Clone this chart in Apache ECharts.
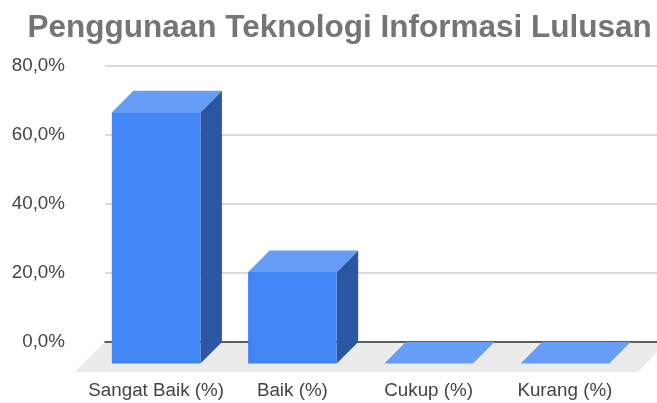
<!DOCTYPE html>
<html>
<head>
<meta charset="utf-8">
<title>Penggunaan Teknologi Informasi Lulusan</title>
<style>
  html, body { margin: 0; padding: 0; background: #fff; }
  #main { width: 657px; height: 403px; }
</style>
</head>
<body>
<div id="main"></div>
<script src="https://cdn.jsdelivr.net/npm/echarts@6/dist/echarts.min.js"></script>
<script>
const categories = ['Sangat Baik (%)', 'Baik (%)', 'Cukup (%)', 'Kurang (%)'];
const values = [72.7, 26.5, 0, 0];
const yTicks = [0, 20, 40, 60, 80];

const chartTitle = 'Penggunaan Teknologi Informasi Lulusan';
const fontName = '"Liberation Sans", Arial, sans-serif';
const depth = 21.5; // offset of the back of the box
const barShare = 0.65;

const chart = echarts.init(document.getElementById('main'), null, { renderer: 'canvas' });

// the 3d look: back wall is grid 0, front plane is grid 1 (same scale, shifted by depth)
function renderFloor(params, api) {
  const cs = params.coordSys;
  const y0 = api.coord([0, 0])[1];
  return {
    type: 'polygon',
    shape: {
      points: [
        [cs.x + 16.6, y0 - depth],
        [cs.x + cs.width + 34.6, y0 - depth],
        [cs.x + cs.width + 4.6, y0 + 8.5],
        [cs.x - 13.4, y0 + 8.5]
      ]
    },
    style: { fill: '#ebebeb' }
  };
}

function renderBox(params, api) {
  const i = api.value(0);
  const top = api.coord([i, api.value(1)]);
  const bottom = api.coord([i, 0]);
  const w = api.size([1, 0])[0] * barShare;
  const l = top[0] - w / 2;
  const r = top[0] + w / 2;
  return {
    type: 'group',
    children: [
      {
        type: 'polygon',
        shape: { points: [[r, top[1]], [r + depth, top[1] - depth], [r + depth, bottom[1] - depth], [r, bottom[1]]] },
        style: { fill: '#2a56a3' }
      },
      {
        type: 'polygon',
        shape: { points: [[l, top[1]], [l + depth, top[1] - depth], [r + depth, top[1] - depth], [r, top[1]]] },
        style: { fill: '#669df6' }
      },
      {
        type: 'rect',
        shape: { x: l, y: top[1], width: w, height: bottom[1] - top[1] },
        style: { fill: '#4285f4' }
      }
    ]
  };
}

const option = {
  animation: false,
  backgroundColor: '#fff',
  title: {
    text: chartTitle,
    left: 22.5,
    top: 7,
    textStyle: { fontFamily: fontName, fontSize: 31.5, fontWeight: 'bold', color: '#757575' }
  },
  grid: [
    { left: 105, top: 65.5, width: 563, height: 276.5 },
    { left: 88, top: 87, width: 545, height: 276.5 }
  ],
  xAxis: [
    {
      gridIndex: 0,
      type: 'category',
      data: categories,
      z: 3,
      axisTick: { show: false },
      axisLabel: { show: false },
      axisLine: { lineStyle: { color: '#333', width: 1.5 } }
    },
    {
      gridIndex: 1,
      type: 'category',
      data: categories,
      axisTick: { show: false },
      axisLine: { show: false },
      axisLabel: { margin: 18, interval: 0, fontFamily: fontName, fontSize: 18.8, color: '#444' }
    }
  ],
  yAxis: [
    {
      gridIndex: 0,
      type: 'value',
      min: yTicks[0],
      max: yTicks[yTicks.length - 1],
      interval: 20,
      axisLine: { show: false },
      axisTick: { show: false },
      splitLine: { lineStyle: { color: '#ccc', width: 1.5 } },
      axisLabel: {
        margin: 40,
        padding: [2, 0, 0, 0],
        fontFamily: fontName,
        fontSize: 18.8,
        color: '#444',
        formatter: v => v.toFixed(1).replace('.', ',') + '%'
      }
    },
    {
      gridIndex: 1,
      type: 'value',
      min: yTicks[0],
      max: yTicks[yTicks.length - 1],
      interval: 20,
      show: false
    }
  ],
  series: [
    {
      type: 'custom',
      xAxisIndex: 1,
      yAxisIndex: 1,
      z: 1,
      renderItem: renderFloor,
      data: [[0, 0]],
      silent: true
    },
    {
      type: 'custom',
      name: chartTitle,
      xAxisIndex: 1,
      yAxisIndex: 1,
      z: 5,
      renderItem: renderBox,
      encode: { x: 0, y: 1 },
      data: values.map((v, i) => [i, v])
    }
  ]
};

chart.setOption(option);
</script>
</body>
</html>
